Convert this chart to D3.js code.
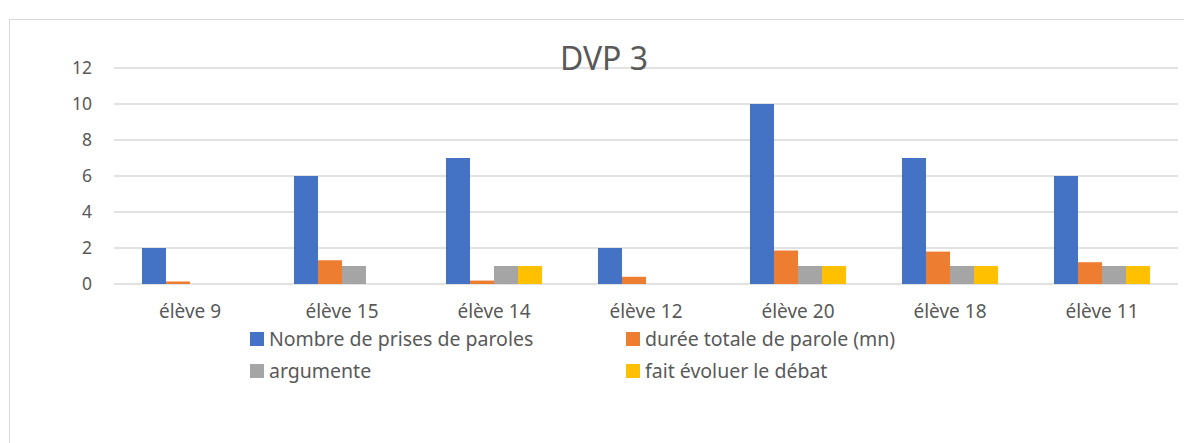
<!DOCTYPE html>
<html>
<head>
<meta charset="utf-8">
<title>DVP 3</title>
<script src="https://d3js.org/d3.v7.min.js"></script>
<style>
  body { margin: 0; background: #fff; }
  svg text { font-family: "Noto Sans", sans-serif; fill: #595959; }
</style>
</head>
<body>
<div id="chart"></div>
<script>
// Data
const categories = ["élève 9", "élève 15", "élève 14", "élève 12", "élève 20", "élève 18", "élève 11"];
const seriesNames = ["Nombre de prises de paroles", "durée totale de parole (mn)", "argumente", "fait évoluer le débat"];
const prises = [2, 6, 7, 2, 10, 7, 6];
const duree = [0.14, 1.32, 0.19, 0.4, 1.86, 1.8, 1.21];
const argumente = [0, 1, 1, 0, 1, 1, 1];
const evoluer = [0, 0, 1, 0, 1, 1, 1];
const yTicks = [0, 2, 4, 6, 8, 10, 12];
const colors = ["#4472C4", "#ED7D31", "#A5A5A5", "#FFC000"];

const width = 1184, height = 443;
const plot = { left: 114, right: 1178, top: 68, bottom: 284 };

const svg = d3.select("#chart").append("svg")
  .attr("width", width).attr("height", height);

// chart border
svg.append("rect")
  .attr("x", 9.5).attr("y", 19.5)
  .attr("width", 1190).attr("height", 440)
  .attr("fill", "#fff").attr("stroke", "#d9d9d9");

const x0 = d3.scaleBand().domain(categories).range([plot.left, plot.right]).padding(0);
const groupW = x0.bandwidth() * 0.632;
const x1 = d3.scaleBand().domain(seriesNames).range([0, groupW]).padding(0);
const y = d3.scaleLinear().domain([0, 12]).range([plot.bottom, plot.top]);

// gridlines
svg.append("g").selectAll("line").data(yTicks).join("line")
  .attr("x1", plot.left).attr("x2", plot.right)
  .attr("y1", d => y(d)).attr("y2", d => y(d))
  .attr("stroke", "#d9d9d9").attr("stroke-width", 1.3);

// y labels
svg.append("g").selectAll("text").data(yTicks).join("text")
  .attr("x", 92).attr("y", d => y(d)).attr("dy", "0.36em")
  .attr("text-anchor", "end").attr("font-size", 17.5)
  .text(d => d);

// title
svg.append("text").attr("x", 604).attr("y", 70)
  .attr("text-anchor", "middle").attr("font-size", 32)
  .text("DVP 3");

const rows = categories.map((c, i) => ({
  cat: c,
  vals: [prises[i], duree[i], argumente[i], evoluer[i]]
}));

const groups = svg.append("g").selectAll("g").data(rows).join("g")
  .attr("transform", d => `translate(${x0(d.cat) + (x0.bandwidth() - groupW) / 2},0)`);

groups.selectAll("rect")
  .data(d => d.vals.map((v, k) => ({ name: seriesNames[k], v, k })).filter(e => e.v > 0))
  .join("rect")
  .attr("x", d => x1(d.name))
  .attr("width", x1.bandwidth())
  .attr("y", d => y(d.v))
  .attr("height", d => y(0) - y(d.v))
  .attr("fill", d => colors[d.k]);

// category labels
svg.append("g").selectAll("text").data(categories).join("text")
  .attr("x", d => x0(d) + x0.bandwidth() / 2)
  .attr("y", 318)
  .attr("text-anchor", "middle").attr("font-size", 19)
  .text(d => d);

// legend
const legendPos = [[250, 346], [626, 346], [250, 378], [626, 378]];
const leg = svg.append("g").selectAll("g").data(seriesNames).join("g")
  .attr("transform", (d, i) => `translate(${legendPos[i][0]},${legendPos[i][1]})`);
leg.append("rect").attr("x", 0).attr("y", -14).attr("width", 14).attr("height", 14)
  .attr("fill", (d, i) => colors[i]);
leg.append("text").attr("x", 19).attr("y", 0)
  .attr("font-size", 19.5).text(d => d);
</script>
</body>
</html>
